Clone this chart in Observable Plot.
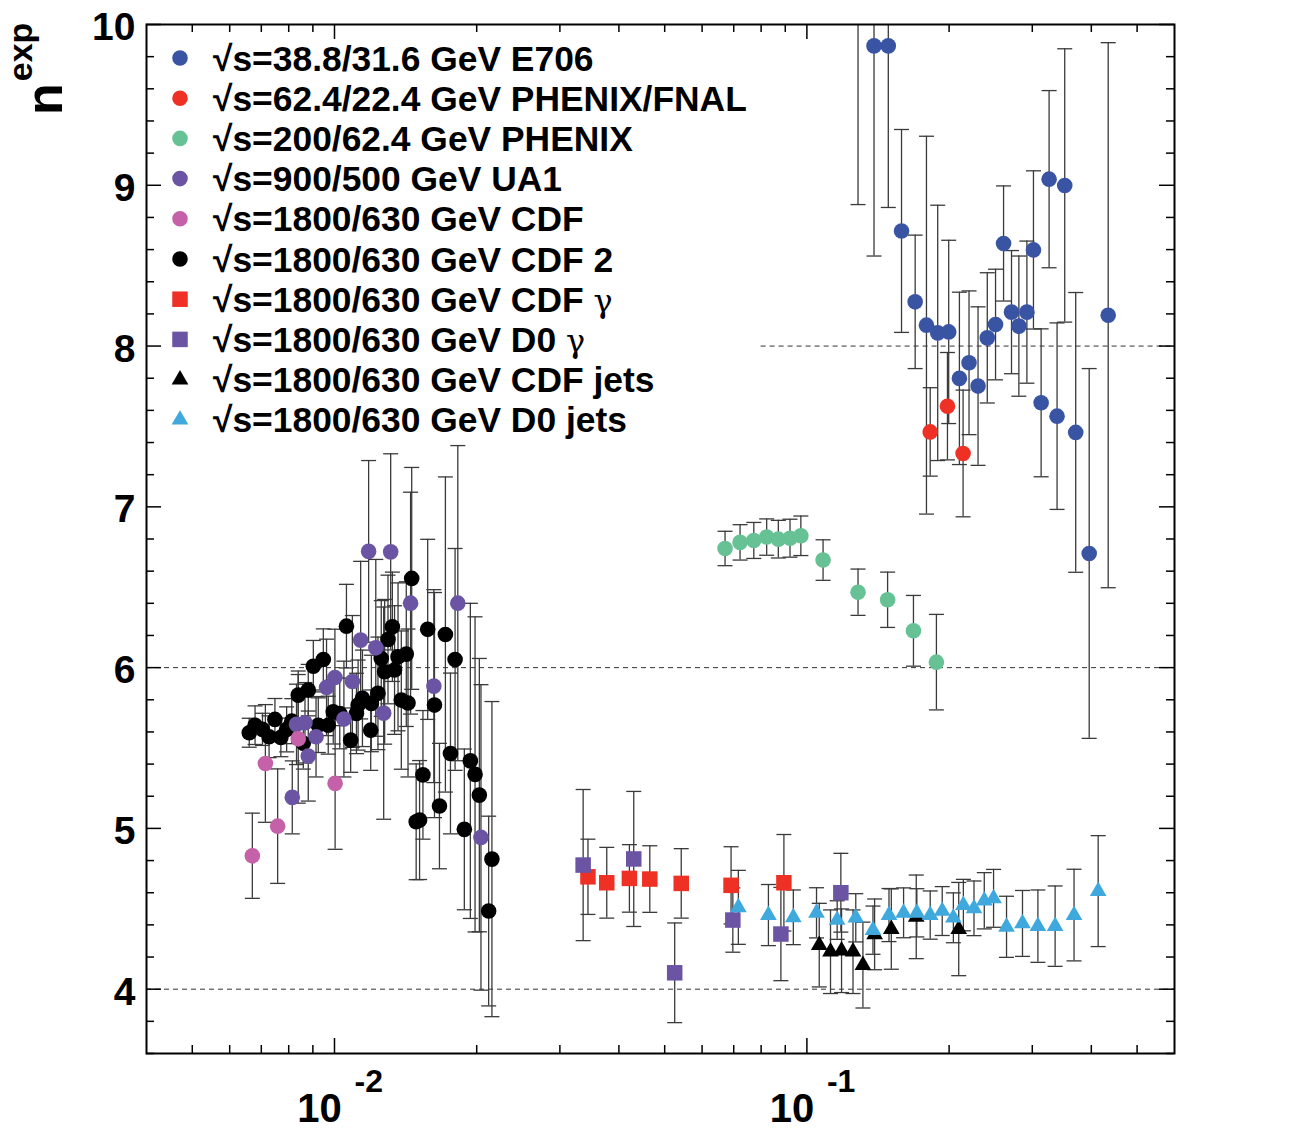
<!DOCTYPE html>
<html><head><meta charset="utf-8">
<script src="https://cdn.jsdelivr.net/npm/d3@7"></script>
<script src="https://cdn.jsdelivr.net/npm/@observablehq/plot@0.6"></script>
<style>
html,body{margin:0;padding:0;background:#fff;}
#chart{width:1299px;height:1144px;}
</style></head><body><div id="chart"></div>
<script>
// ---- data (x, n^exp, error) ----
const e706X = [0.1283, 0.1387, 0.1487, 0.1586, 0.1695, 0.1791, 0.1892, 0.1996, 0.2103, 0.2204, 0.2303, 0.2409, 0.2508, 0.2608, 0.2711, 0.2810, 0.2922, 0.3017, 0.3132, 0.3256, 0.3385, 0.3514, 0.3707, 0.3959, 0.4343];
const e706Y = [10.4, 9.867, 9.867, 8.716, 8.275, 8.13, 8.082, 8.088, 7.799, 7.896, 7.751, 8.051, 8.134, 8.638, 8.211, 8.124, 8.211, 8.598, 7.647, 9.038, 7.564, 8.999, 7.463, 6.710, 8.192];
const e706E = [1.52, 1.307, 1.005, 0.631, 0.415, 1.175, 0.794, 0.57, 0.536, 0.447, 0.493, 0.405, 0.344, 0.358, 0.383, 0.436, 0.442, 0.492, 0.46, 0.551, 0.58, 0.85, 0.87, 1.15, 1.695];

const fnalX = [0.1824, 0.1984, 0.2141];
const fnalY = [7.466, 7.626, 7.332];
const fnalE = [0.275, 0.334, 0.394];

const phenixX = [0.0671, 0.0722, 0.0772, 0.0822, 0.0870, 0.0921, 0.0971, 0.1082, 0.1283, 0.1482, 0.1681, 0.1880];
const phenixY = [6.741, 6.779, 6.791, 6.812, 6.799, 6.805, 6.82, 6.669, 6.469, 6.422, 6.229, 6.034];
const phenixE = [0.107, 0.11, 0.112, 0.113, 0.117, 0.118, 0.123, 0.126, 0.144, 0.172, 0.22, 0.297];

const ua1X = [0.00814, 0.00831, 0.00866, 0.00880, 0.00914, 0.00962, 0.01002, 0.01047, 0.01091, 0.01136, 0.01181, 0.01223, 0.01271, 0.01315, 0.01449, 0.01623, 0.01824, 0.02042];
const ua1Y = [5.193, 5.647, 5.657, 5.45, 5.57, 5.877, 5.939, 5.68, 5.914, 6.171, 6.723, 6.123, 5.717, 6.72, 6.401, 5.885, 6.401, 4.944];
const ua1E = [0.227, 0.25, 0.25, 0.28, 0.25, 0.3, 0.3, 0.36, 0.41, 0.49, 0.565, 0.55, 0.66, 0.61, 0.69, 0.6, 0.98, 0.95];

const cdfX = [0.0067, 0.00714, 0.00758, 0.00838, 0.01003];
const cdfY = [4.83, 5.404, 5.014, 5.557, 5.28];
const cdfE = [0.265, 0.366, 0.356, 0.4, 0.41];

const cdf2X = [0.00660, 0.00679, 0.00704, 0.00727, 0.00748, 0.00770, 0.00792, 0.00812, 0.00838, 0.00859, 0.00880, 0.00902, 0.00924, 0.00947, 0.00970, 0.00994, 0.01026, 0.01060, 0.01082, 0.01113, 0.01122, 0.01146, 0.01193, 0.01197, 0.01236, 0.01256, 0.01277, 0.01298, 0.01326, 0.01340, 0.01363, 0.01385, 0.01419, 0.01431, 0.01457, 0.01489, 0.01514, 0.01539, 0.01575, 0.01628, 0.01668, 0.01717, 0.01760, 0.01800, 0.01883, 0.01939, 0.01984, 0.02026, 0.02120, 0.02154];
const cdf2Y = [5.595, 5.642, 5.616, 5.57, 5.678, 5.566, 5.616, 5.667, 5.829, 5.529, 5.86, 6.009, 5.642, 6.051, 5.642, 5.725, 5.715, 6.258, 5.549, 5.715, 5.767, 5.809, 5.611, 5.777, 5.84, 6.057, 5.974, 6.175, 6.254, 5.985, 6.067, 5.798, 6.084, 5.78, 6.555, 5.041, 5.052, 5.333, 6.238, 5.767, 5.139, 6.206, 5.466, 6.051, 4.994, 5.42, 5.336, 5.207, 4.486, 4.809];
const cdf2E = [0.09, 0.12, 0.1, 0.13, 0.13, 0.12, 0.14, 0.14, 0.15, 0.16, 0.16, 0.16, 0.17, 0.19, 0.18, 0.2, 0.22, 0.26, 0.2, 0.25, 0.28, 0.3, 0.25, 0.3, 0.35, 0.36, 0.45, 0.4, 0.34, 0.4, 0.46, 0.43, 0.45, 0.46, 0.69, 0.36, 0.37, 0.4, 0.56, 0.7, 0.39, 0.98, 0.5, 0.69, 0.5, 0.98, 0.98, 0.85, 0.59, 0.98];

const cdfGX = [0.0344, 0.0377, 0.0421, 0.0465, 0.0542, 0.0691, 0.0894];
const cdfGY = [4.699, 4.662, 4.689, 4.685, 4.658, 4.646, 4.662];
const cdfGE = [0.234, 0.22, 0.21, 0.207, 0.216, 0.24, 0.3];

const d0GX = [0.0336, 0.0430, 0.0525, 0.0697, 0.0881, 0.118];
const d0GY = [4.772, 4.81, 4.102, 4.43, 4.343, 4.6];
const d0GE = [0.47, 0.42, 0.31, 0.2, 0.29, 0.245];

const cdfJX = [0.1062, 0.1122, 0.1184, 0.1252, 0.1314, 0.1391, 0.1509, 0.1704, 0.2096];
const cdfJY = [4.274, 4.233, 4.239, 4.233, 4.15, 4.341, 4.374, 4.45, 4.374];
const cdfJE = [0.26, 0.26, 0.26, 0.26, 0.267, 0.22, 0.25, 0.26, 0.29];

const d0JX = [0.0716, 0.0829, 0.0936, 0.1048, 0.1159, 0.1269, 0.1380, 0.1492, 0.1602, 0.1709, 0.1824, 0.1934, 0.2042, 0.2144, 0.2258, 0.2374, 0.2484, 0.2646, 0.2860, 0.3083, 0.3353, 0.3677, 0.4136];
const d0JY = [4.509, 4.461, 4.447, 4.475, 4.43, 4.444, 4.367, 4.461, 4.475, 4.475, 4.461, 4.486, 4.444, 4.523, 4.503, 4.55, 4.565, 4.388, 4.409, 4.392, 4.392, 4.461, 4.61];
const d0JE = [0.23, 0.19, 0.17, 0.156, 0.12, 0.15, 0.15, 0.165, 0.155, 0.15, 0.15, 0.152, 0.155, 0.16, 0.17, 0.175, 0.18, 0.19, 0.205, 0.225, 0.25, 0.285, 0.345];

const seriesLabels = ["√s=38.8/31.6 GeV E706", "√s=62.4/22.4 GeV PHENIX/FNAL", "√s=200/62.4 GeV PHENIX", "√s=900/500 GeV UA1", "√s=1800/630 GeV CDF", "√s=1800/630 GeV CDF 2", "√s=1800/630 GeV CDF ", "√s=1800/630 GeV D0 ", "√s=1800/630 GeV CDF jets", "√s=1800/630 GeV D0 jets"];
const seriesGamma = [false, false, false, false, false, false, true, true, false, false];
const seriesColors = ["#3a54a4", "#ee3124", "#66c295", "#6a54a3", "#c461a8", "#000000", "#ee3124", "#6a54a3", "#000000", "#3fa9de"];
const seriesSymbols = ["circle", "circle", "circle", "circle", "circle", "circle", "square", "square", "triangle", "triangle"];
const seriesData = [[e706X, e706Y, e706E], [fnalX, fnalY, fnalE], [phenixX, phenixY, phenixE], [ua1X, ua1Y, ua1E], [cdfX, cdfY, cdfE], [cdf2X, cdf2Y, cdf2E], [cdfGX, cdfGY, cdfGE], [d0GX, d0GY, d0GE], [cdfJX, cdfJY, cdfJE], [d0JX, d0JY, d0JE]];

const xMajor = [0.01, 0.1];
const xMinor = [0.005, 0.006, 0.007, 0.008, 0.009, 0.02, 0.03, 0.04, 0.05, 0.06, 0.07, 0.08, 0.09, 0.2, 0.3, 0.4, 0.5];
const yMajor = [4, 5, 6, 7, 8, 9, 10];
const yMinor = d3.range(3.6, 10.001, 0.2).map(v => +v.toFixed(1)).filter(v => !yMajor.includes(v));
const xLabelPow = ["-2", "-1"];

// ---- build tables ----
const symR = {circle: 7.8, square: 8.75, triangle: 6.2};
const rows = [];
seriesData.forEach(([xs, ys, es], k) => {
  xs.forEach((x, i) => rows.push({k, x, y: ys[i], lo: ys[i] - es[i], hi: ys[i] + es[i]}));
});

const W = 1299, H = 1144, mL = 146, mR = 125, mT = 24, mB = 91;
const fw = W - mL - mR, fh = H - mT - mB;
const FONT = "'Liberation Sans', Arial, Helvetica, sans-serif";
const capSymbol = {draw(ctx) { ctx.moveTo(-7.5, 0); ctx.lineTo(7.5, 0); }};
const barColor = "#3a3a3a";

const drawOrder = [5, 0, 1, 2, 3, 4, 6, 7, 8, 9];
const dotMarks = drawOrder.map(k => Plot.dot(rows.filter(d => d.k === k), {
  x: "x", y: "y", fill: seriesColors[k], symbol: seriesSymbols[k], r: symR[seriesSymbols[k]], clip: true
}));

const plot = Plot.plot({
  width: W, height: H,
  marginLeft: mL, marginRight: mR, marginTop: mT, marginBottom: mB,
  style: {fontFamily: FONT, background: "white", color: "black", overflow: "visible"},
  x: {type: "log", domain: [0.004, 0.6], axis: null},
  y: {domain: [3.6, 10], axis: null},
  marks: [
    Plot.ruleY([4, 6], {stroke: "#333", strokeWidth: 1, strokeDasharray: "5,4"}),
    Plot.ruleY([8], {x1: 0.08, x2: 0.6, stroke: "#333", strokeWidth: 1, strokeDasharray: "5,4"}),
    Plot.ruleX(rows, {x: "x", y1: "lo", y2: "hi", stroke: barColor, strokeWidth: 1.3, clip: true}),
    Plot.dot(rows, {x: "x", y: "hi", symbol: capSymbol, fill: "none", stroke: barColor, strokeWidth: 1.3, clip: true}),
    Plot.dot(rows, {x: "x", y: "lo", symbol: capSymbol, fill: "none", stroke: barColor, strokeWidth: 1.3, clip: true}),
    ...dotMarks,
    Plot.tickY(yMajor, {y: d => d, insetRight: fw - 15, stroke: "black", strokeWidth: 1.5}),
    Plot.tickY(yMinor, {y: d => d, insetRight: fw - 8, stroke: "black", strokeWidth: 1.5}),
    Plot.tickY(yMajor, {y: d => d, insetLeft: fw - 15, stroke: "black", strokeWidth: 1.5}),
    Plot.tickY(yMinor, {y: d => d, insetLeft: fw - 8, stroke: "black", strokeWidth: 1.5}),
    Plot.tickX(xMajor, {x: d => d, insetTop: fh - 15, stroke: "black", strokeWidth: 1.5}),
    Plot.tickX(xMinor, {x: d => d, insetTop: fh - 8, stroke: "black", strokeWidth: 1.5}),
    Plot.tickX(xMajor, {x: d => d, insetBottom: fh - 15, stroke: "black", strokeWidth: 1.5}),
    Plot.tickX(xMinor, {x: d => d, insetBottom: fh - 8, stroke: "black", strokeWidth: 1.5}),
    Plot.frame({stroke: "black", strokeWidth: 2}),
    Plot.axisY(yMajor, {tickSize: 0, tickPadding: 11, fontSize: 39, fontWeight: "bold", dy: 3, tickFormat: d => String(d)}),
    Plot.text(xMajor, {x: d => d, text: () => "10", frameAnchor: "bottom", dy: 68, dx: -15, fontSize: 40, fontWeight: "bold"}),
    Plot.text(xMajor, {x: d => d, text: (d, i) => xLabelPow[i], frameAnchor: "bottom", dy: 38, dx: 20, textAnchor: "start", fontSize: 32, fontWeight: "bold"})
  ]
});
document.getElementById("chart").append(plot);

// ---- legend and y title ----
const svg = d3.select(plot);
const symMap = {circle: d3.symbolCircle, square: d3.symbolSquare, triangle: d3.symbolTriangle};
const lg = svg.append("g").attr("text-anchor", "start");
seriesLabels.forEach((label, i) => {
  const cy = 58 + i * 40.2;
  const s = seriesSymbols[i];
  lg.append("path")
    .attr("transform", `translate(180,${cy})`)
    .attr("d", d3.symbol(symMap[s], Math.PI * symR[s] * symR[s])())
    .attr("fill", seriesColors[i]);
  const t = lg.append("text").attr("x", 213).attr("y", cy + 12.5).attr("text-anchor", "start")
    .attr("font-size", 35.4).attr("font-weight", "bold").attr("font-family", FONT);
  t.append("tspan").text(label);
  if (seriesGamma[i]) t.append("tspan").attr("font-weight", "normal")
    .attr("font-family", "'DejaVu Serif', 'Liberation Serif', serif").attr("font-size", 32).text("γ");
});
const yl = svg.append("text").attr("transform", "translate(62,115) rotate(-90)").attr("text-anchor", "start")
  .attr("font-weight", "bold").attr("font-family", FONT);
yl.append("tspan").attr("font-size", 52).text("n");
yl.append("tspan").attr("font-size", 34).attr("dy", -30).attr("dx", 2).text("exp");
</script>
</body></html>
